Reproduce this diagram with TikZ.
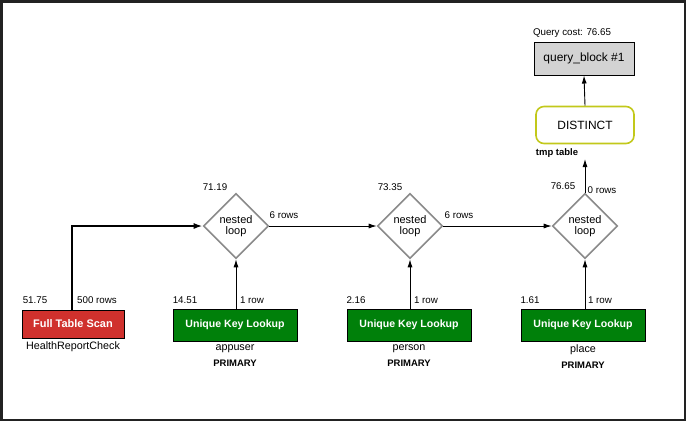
\documentclass[tikz,border=0pt]{standalone}
\usepackage{fontspec}
\setmainfont{Liberation Sans}
\usetikzlibrary{shapes.geometric,arrows.meta}
\definecolor{scanred}{HTML}{D0312D}
\definecolor{lookgreen}{HTML}{00800A}
\definecolor{loopgray}{HTML}{8A8A8A}
\definecolor{distyellow}{HTML}{C2C81A}
\definecolor{qbgray}{HTML}{D3D3D3}
\definecolor{framegray}{HTML}{222222}
\tikzset{
  lbl/.style={font=\fontsize{9.8}{11}\selectfont, inner sep=0pt},
  blbl/.style={font=\bfseries\fontsize{9.5}{11}\selectfont, inner sep=0pt},
  tbl/.style={font=\fontsize{10.8}{12}\selectfont, inner sep=0pt},
  scanbox/.style={draw=black, fill=scanred, line width=1pt, minimum width=102bp, minimum height=28bp, inner sep=0pt, text=white, font=\bfseries\fontsize{11}{12}\selectfont},
  lookbox/.style={draw=black, fill=lookgreen, line width=1pt, minimum width=124bp, minimum height=32bp, inner sep=0pt, text=white, font=\bfseries\fontsize{10.6}{12}\selectfont},
  loopnode/.style={diamond, draw=loopgray, line width=1.6pt, fill=white, minimum width=65bp, minimum height=65bp, inner sep=0pt, align=center, font=\fontsize{11}{11}\selectfont},
  distbox/.style={draw=distyellow, line width=1.6pt, rounded corners=8bp, fill=white, minimum width=98bp, minimum height=37bp, inner sep=0pt, font=\fontsize{12}{14}\selectfont},
  qbbox/.style={draw=black, fill=qbgray, line width=1pt, minimum width=100bp, minimum height=33bp, inner sep=0pt, font=\fontsize{12}{14}\selectfont},
  conn/.style={draw=black, line width=0.9pt, -{Latex[length=8bp,width=5bp]}},
  thickconn/.style={draw=black, line width=2pt, -{Latex[length=9bp,width=6bp]}},
}
\begin{document}
\begin{tikzpicture}[x=1bp,y=-1bp]
\path[use as bounding box] (0,0) rectangle (687,421);
\draw[framegray, line width=2.5bp] (1.25,1.25) rectangle (684.75,419.75);

% query block and distinct
\node[qbbox] (qb) at (584,58.5) {query\_block \#1};
\node[lbl] (qcost) at (572,33) {Query cost: 76.65};
\node[distbox] (dist) at (585,125) {DISTINCT};
\node[blbl] (tmp) at (557,153) {tmp table};
\coordinate (distin) at (585,159);

% diamonds
\node[loopnode] (n1) at (236,226) {nested\\loop};
\node[loopnode] (n2) at (410,226) {nested\\loop};
\node[loopnode] (n3) at (585,226) {nested\\loop};
\node[lbl] (c1) at (215,187) {71.19};
\node[lbl] (c2) at (390,187) {73.35};
\node[lbl] (c3) at (563,186) {76.65};
\node[lbl] (r1) at (284,215) {6 rows};
\node[lbl] (r2) at (459,215) {6 rows};
\node[lbl] (r3) at (602,190) {0 rows};

% scan box
\node[scanbox] (scan) at (73,324) {Full Table Scan};
\node[lbl] (sc) at (35,300) {51.75};
\node[lbl] (sr) at (97,300) {500 rows};
\node[tbl] (st) at (73,347) {HealthReportCheck};

% lookups
\node[lookbox] (l1) at (235,325) {Unique Key Lookup};
\node[lookbox] (l2) at (409,325) {Unique Key Lookup};
\node[lookbox] (l3) at (583,325) {Unique Key Lookup};
\node[lbl] (lc1) at (185,300) {14.51};
\node[lbl] (lc2) at (356,300) {2.16};
\node[lbl] (lc3) at (530,300) {1.61};
\node[lbl] (lr1) at (252,300) {1 row};
\node[lbl] (lr2) at (426,300) {1 row};
\node[lbl] (lr3) at (600,300) {1 row};
\node[tbl] (t1) at (235,348.5) {appuser};
\node[tbl] (t2) at (409,348.5) {person};
\node[tbl] (t3) at (583,349.5) {place};
\node[blbl] (k1) at (235,363) {PRIMARY};
\node[blbl] (k2) at (409,363) {PRIMARY};
\node[blbl] (k3) at (583,365) {PRIMARY};

% connectors
\draw[thickconn] (scan.north -| 72,0) |- (n1.west);
\draw[conn] (n1.east) -- (n2.west);
\draw[conn] (n2.east) -- (n3.west);
\draw[conn] (l1.north -| n1) -- (n1.south);
\draw[conn] (l2.north -| n2) -- (n2.south);
\draw[conn] (l3.north -| n3) -- (n3.south);
\draw[conn] (n3.north) -- (distin);
\draw[conn] (dist.north) -- (qb.south);
\end{tikzpicture}
\end{document}
